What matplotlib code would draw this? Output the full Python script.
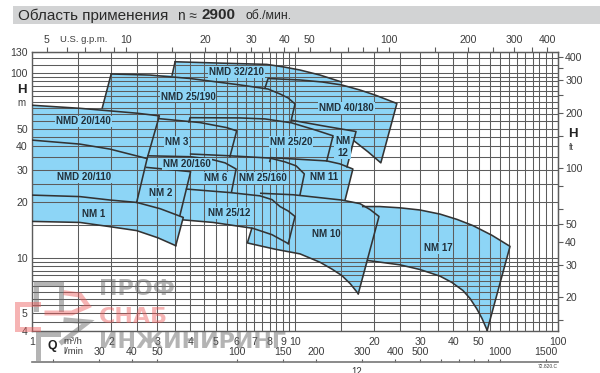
import matplotlib
matplotlib.use('Agg')
import matplotlib.pyplot as plt
from matplotlib.lines import Line2D
from matplotlib.patches import Rectangle
from matplotlib.ticker import NullLocator

plt.rcParams['font.family'] = ['Liberation Sans', 'DejaVu Sans']

W, H = 600, 373
BLUE = '#8dd5f6'
INK = '#333333'
GRID = '#5c5c5c'
TXT = '#3c3c3c'

# Grid and axis ticks
q_grid = [1, 1.5, 2, 2.5, 3, 3.5, 4, 4.5, 5, 5.5, 6, 6.5, 7, 7.5, 8, 8.5, 9, 9.5, 10, 15,
          20, 25, 30, 35, 40, 45, 50, 55, 60, 65, 70, 75, 80, 85, 90, 95, 100]
h_grid = [4, 4.5, 5, 5.5, 6, 6.5, 7, 7.5, 8, 8.5, 9, 9.5, 10, 15, 20, 25, 30, 35, 40, 45, 50,
          55, 60, 65, 70, 75, 80, 85, 90, 95, 100, 110, 120, 130]
q_labels = [1, 2, 3, 4, 5, 6, 7, 8, 9, 10, 20, 30, 40, 50, 100]
h_labels = [4, 5, 10, 20, 30, 40, 50, 100, 130]
gpm_ticks = [5, 6, 7, 8, 9, 10, 15, 20, 25, 30, 35, 40, 45, 50, 60, 70, 80, 90, 100, 150,
             200, 250, 300, 350, 400]
gpm_labels = [5, 10, 20, 30, 40, 50, 100, 200, 300, 400]
lmin_ticks = [20, 30, 40, 50, 100, 150, 200, 300, 400, 500, 600, 700, 800, 900, 1000, 1500]
lmin_labels = [30, 40, 50, 100, 150, 200, 300, 400, 500, 1000, 1500]
ft_ticks = [15, 20, 30, 40, 50, 60, 80, 100, 150, 200, 250, 300, 350, 400]
ft_labels = [20, 30, 40, 50, 100, 200, 300, 400]

# Curves, Q in m3/h and H in m
nmd32_q = [3.50, 5.18, 7.80, 9.09, 10.45, 12.45, 15.05]
nmd32_h = [115.1, 113.2, 111.4, 107.8, 103.8, 97.5, 89.4]
nmd25_q = [2.0, 2.81, 3.99, 6.18, 7.90, 8.77, 9.41, 10.0, 9.66]
nmd25_h = [98.8, 97.5, 93.4, 86.2, 81.9, 77.0, 73.3, 68.0, 55.0]
nmd40_q = [7.69, 7.9, 10.45, 12.7, 15.05, 17.66, 20.15, 24.4, 21.2, 18.95, 16.76]
nmd40_h = [83.0, 93.4, 91.7, 89.4, 86.2, 80.9, 76.0, 68.4, 32.6, 37.4, 42.9]
nm12_q = [9.71, 12.8, 17.06, 15.77]
nm12_h = [55.5, 51.7, 48.2, 31.0]
nm2520_q = [3.95, 3.99, 6.18, 7.69, 9.71, 11.9, 13.95, 13.2]
nm2520_h = [54.3, 57.3, 57.1, 56.4, 53.7, 49.2, 45.7, 33.4]
nm3_q = [3.04, 4.35, 5.50, 6.0, 5.66]
nm3_h = [56.6, 53.9, 50.6, 48.6, 35.3]
nmd140_q = [1, 1.52, 2.50, 3.05, 2.74, 2.50]
nmd140_h = [66.9, 64.4, 60.6, 58.6, 34.4, 19.9]
nmd110_q = [1, 1.52, 1.98, 2.74]
nmd110_h = [43.3, 41.2, 38.7, 34.4]
nm1_top_q = [1, 1.52, 1.98, 2.50, 3.07, 3.76, 3.52]
nm1_top_h = [21.8, 21.4, 20.5, 19.9, 18.4, 16.5, 11.6]
nm1_bot_q = [1, 1.52, 1.98, 2.50, 3.01, 3.52]
nm1_bot_h = [15.7, 15.5, 14.7, 14.0, 12.8, 11.6]
nm20160_q = [2.76, 3.99, 4.75, 5.42, 5.97, 5.74]
nm20160_h = [35.6, 35.2, 34.2, 32.6, 30.2, 22.8]
nm2_q = [2.73, 4.01, 3.65]
nm2_h = [30.8, 29.2, 16.9]
nm25160_q = [4.01, 5.66, 8.04, 9.16, 10.1, 10.85, 10.45]
nm25160_h = [36.4, 35.6, 34.6, 33.0, 31.4, 28.4, 21.9]
nm11_q = [8.02, 8.09, 13.2, 14.8, 16.6, 15.5]
nm11_h = [33.2, 34.8, 33.4, 32.2, 30.2, 20.5]
nm2512_top_q = [3.87, 5.66, 7.36, 8.18, 8.77, 9.41, 10.0, 9.43]
nm2512_top_h = [23.5, 22.5, 21.6, 20.6, 18.9, 17.9, 16.7, 11.9]
nm2512_bot_q = [3.76, 4.88, 6.92, 8.18, 9.43]
nm2512_bot_h = [16.0, 15.5, 14.4, 13.3, 11.9]
nm10_top_q = [7.41, 9.83, 15.05, 17.66, 19.3, 20.86, 17.4]
nm10_top_h = [22.3, 21.9, 20.5, 19.6, 18.2, 16.7, 6.37]
nm10_bot_q = [6.85, 6.59, 8.4, 10.45, 12.45, 13.8, 15.05, 16.2, 17.4]
nm10_bot_h = [14.4, 12.0, 11.1, 10.47, 9.43, 8.67, 8.0, 7.23, 6.37]
nm17_top_q = [18.1, 21.0, 25.1, 29.9, 35.6, 41.3, 47.5, 56.1, 65.7, 53.8]
nm17_top_h = [18.9, 18.9, 18.6, 18.1, 17.2, 16.1, 14.9, 13.2, 11.5, 4.03]
nm17_bot_q = [19.0, 25.1, 29.9, 35.6, 39.5, 43.5, 46.3, 49.1, 51.4, 53.8]
nm17_bot_h = [9.63, 9.13, 8.61, 7.93, 7.33, 6.63, 6.0, 5.28, 4.68, 4.03]
nmd32_left_q = [3.41, 3.50]
nmd32_left_h = [97.5, 115.1]
nmd25_left_q = [1.85, 2.0]
nmd25_left_h = [64.7, 98.8]

curves = [(nmd32_q, nmd32_h), (nmd25_q, nmd25_h), (nmd40_q, nmd40_h), (nm12_q, nm12_h),
          (nm2520_q, nm2520_h), (nm3_q, nm3_h), (nmd140_q, nmd140_h), (nmd110_q, nmd110_h),
          (nm1_top_q, nm1_top_h), (nm1_bot_q, nm1_bot_h), (nm20160_q, nm20160_h),
          (nm2_q, nm2_h), (nm25160_q, nm25160_h), (nm11_q, nm11_h),
          (nm2512_top_q, nm2512_top_h), (nm2512_bot_q, nm2512_bot_h),
          (nm10_top_q, nm10_top_h), (nm10_bot_q, nm10_bot_h),
          (nm17_top_q, nm17_top_h), (nm17_bot_q, nm17_bot_h),
          (nmd32_left_q, nmd32_left_h), (nmd25_left_q, nmd25_left_h)]

# Model labels and where they sit
model_names = ['NMD 32/210', 'NMD 25/190', 'NMD 40/180', 'NM 3', 'NM 25/20', 'NM\n12',
               'NMD 20/140', 'NMD 20/110', 'NM 20/160', 'NM 6', 'NM 25/160', 'NM 11',
               'NM 2', 'NM 1', 'NM 25/12', 'NM 10', 'NM 17']
model_q = [5.99, 3.92, 15.7, 3.54, 9.66, 15.2, 1.57, 1.58, 3.88, 5.0, 7.56, 12.9,
           3.09, 1.72, 5.61, 13.1, 35]
model_h = [101, 74.6, 64.7, 42.4, 42.4, 39.8, 54.7, 27.4, 32.2, 26.9, 27.1, 27.2,
           22.5, 17.2, 17.5, 13.4, 11.3]


def fx(x):
    return x / W


def fy(y):
    return 1 - y / H


def rtext(x, y, s, **kw):
    kw.setdefault('va', 'center')
    kw.setdefault('color', TXT)
    fig.text(fx(x), fy(y), s, **kw)


fig = plt.figure(figsize=(W / 100, H / 100), dpi=100)
fig.add_artist(Rectangle((fx(13), fy(24)), 1 - fx(13), 18 / H, transform=fig.transFigure,
                         fc='#d2d3d4', ec='none'))
rtext(18, 15.5, 'Область применения', fontsize=11, color='#2a2a2a')
rtext(178, 15.5, 'n ≈', fontsize=9.8, color='#2a2a2a')
rtext(202, 15, '2900', fontsize=11, fontweight='bold', color='#2a2a2a')
rtext(245, 16, 'об./мин.', fontsize=8.8, color='#2a2a2a')

ax = fig.add_axes([fx(32), fy(331), (558 - 32) / W, (331 - 52) / H])
ax.set_xscale('log')
ax.set_yscale('log')
ax.set_xlim(1, 100)
ax.set_ylim(4, 130)

# silhouette of all the ranges together, walked round from the curves
outline_q = (nmd140_q[:2] + nmd25_left_q + nmd25_q[1:2] + nmd32_left_q + nmd32_q
             + nmd40_q[4:] + nm12_q[2:] + nm11_q[4:] + nm10_top_q[3:4] + nm17_top_q
             + nm17_bot_q[-2::-1] + nm10_bot_q[:0:-1] + nm10_bot_q[:1]
             + nm2512_bot_q[2::-1] + nm1_top_q[5:] + nm1_bot_q[-2::-1])
outline_h = (nmd140_h[:2] + nmd25_left_h + nmd25_h[1:2] + nmd32_left_h + nmd32_h
             + nmd40_h[4:] + nm12_h[2:] + nm11_h[4:] + nm10_top_h[3:4] + nm17_top_h
             + nm17_bot_h[-2::-1] + nm10_bot_h[:0:-1] + nm10_bot_h[:1]
             + nm2512_bot_h[2::-1] + nm1_top_h[5:] + nm1_bot_h[-2::-1])
ax.fill(outline_q, outline_h, color=BLUE, lw=0, zorder=1)

ax.set_xticks(q_grid, minor=True)
ax.set_yticks(h_grid, minor=True)
ax.set_xticks(q_labels)
ax.set_xticklabels([str(v) for v in q_labels])
ax.set_yticks(h_labels)
ax.set_yticklabels([str(v) for v in h_labels])
ax.set_xticklabels([], minor=True)
ax.set_yticklabels([], minor=True)
ax.grid(which='both', color=GRID, lw=0.75, zorder=2)
ax.set_axisbelow(False)
ax.tick_params(which='both', length=0, labelsize=7.6, labelcolor=TXT)
ax.tick_params(axis='x', pad=4)
ax.tick_params(axis='y', pad=3)
for s in ax.spines.values():
    s.set_color(GRID)
    s.set_linewidth(1)

for cq, ch in curves:
    ax.plot(cq, ch, color=INK, lw=1.15, zorder=3, solid_joinstyle='round')

for name, q, h in zip(model_names, model_q, model_h):
    ax.text(q, h, name, ha='center', va='center', fontsize=7, fontweight='bold', color='#22303a',
            linespacing=1.25, zorder=4,
            bbox=dict(fc=BLUE, ec='none', pad=0.6))

# U.S. g.p.m. along the top
top = ax.secondary_xaxis('top', functions=(lambda q: q * 4.4, lambda g: g / 4.4))
top.set_xticks(gpm_ticks)
top.set_xticklabels([str(v) if v in gpm_labels else '' for v in gpm_ticks])
top.xaxis.set_minor_locator(NullLocator())
top.tick_params(length=3.6, width=0.8, color=GRID, labelsize=7.6, labelcolor=TXT, pad=1.5)
top.spines['top'].set_color(GRID)

# feet on the right
right = ax.secondary_yaxis('right', functions=(lambda h: h * 3.28, lambda f: f / 3.28))
right.set_yticks(ft_ticks)
right.set_yticklabels([str(v) if v in ft_labels else '' for v in ft_ticks])
right.yaxis.set_minor_locator(NullLocator())
right.tick_params(length=3.6, width=0.8, color=GRID, labelsize=7.6, labelcolor=TXT, pad=1.5)
right.spines['right'].set_color(GRID)

# l/min strip under the plot
lmin = fig.add_axes([fx(32), fy(361.7), (558 - 32) / W, 0.0005])
lmin.set_xscale('log')
lmin.set_xlim(1000 / 60, 100000 / 60)
lmin.set_yticks([])
lmin.patch.set_visible(False)
for side in ['left', 'right', 'bottom']:
    lmin.spines[side].set_visible(False)
lmin.spines['top'].set_color('#777777')
lmin.spines['top'].set_linewidth(1.2)
lmin.xaxis.set_ticks_position('top')
lmin.set_xticks(lmin_ticks)
lmin.set_xticklabels([str(v) if v in lmin_labels else '' for v in lmin_ticks])
lmin.xaxis.set_minor_locator(NullLocator())
lmin.tick_params(length=2.4, width=0.8, color=GRID, labelsize=7.6, labelcolor=TXT, pad=1)

rtext(60, 39, 'U.S. g.p.m.', fontsize=6.8)
rtext(17, 90, 'H', fontsize=9.5, fontweight='bold', color='#222222')
rtext(17, 103, 'm', fontsize=7)
rtext(568, 134, 'H', fontsize=9.5, fontweight='bold', color='#222222')
rtext(569, 147, 'ft', fontsize=6.5)
rtext(47.5, 346, 'Q', fontsize=8.8, fontweight='bold', color='#222222')
rtext(63, 341, 'm³/h', fontsize=6.8)
rtext(63, 352, 'l/min', fontsize=6.8)
rtext(558, 366, '72.820.C', fontsize=3.5, ha='right')
rtext(351, 372, '12', fontsize=7)

# watermark
WM_GREY = (0.42, 0.42, 0.42, 0.5)
WM_RED = (0.93, 0.35, 0.35, 0.45)
rtext(99, 289, 'ПРОФ', fontsize=16, color=WM_GREY, fontweight='bold', family='DejaVu Sans')
rtext(99, 317, 'СНАБ', fontsize=16, color=WM_RED, fontweight='bold', family='DejaVu Sans')
rtext(99, 342, 'ИНЖИНИРИНГ', fontsize=16, color=WM_GREY, fontweight='bold', family='DejaVu Sans')
logo = [([36, 36, 61, 61], [309, 283, 283, 309], WM_GREY),
        ([38, 17, 17, 38], [304, 304, 329, 329], WM_RED),
        ([38, 38, 58], [358, 334, 334], WM_GREY),
        ([47, 72, 88, 80, 66], [313, 313, 306, 295, 293], WM_RED),
        ([66, 88, 62], [320, 322, 342], WM_GREY)]
for xs, ys, col in logo:
    fig.add_artist(Line2D([fx(v) for v in xs], [fy(v) for v in ys], color=col, lw=3.6,
                          transform=fig.transFigure, solid_joinstyle='miter'))

fig.savefig('out.png', dpi=100)
